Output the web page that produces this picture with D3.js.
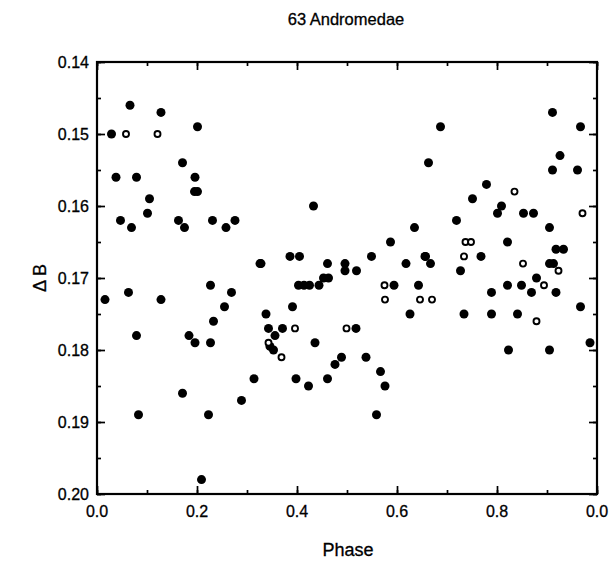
<!DOCTYPE html>
<html><head><meta charset="utf-8">
<script src="https://cdn.jsdelivr.net/npm/d3@7"></script>
<style>
body{margin:0;background:#fff;}
text{font-family:"Liberation Sans",Arial,Helvetica,sans-serif;fill:#000;stroke:#000;stroke-width:0.3px;}
</style></head><body>
<svg id="c" width="610" height="562"></svg>
<script>
const title = "63 Andromedae";
const xLabel = "Phase";
const yLabel = "\u0394 B";
const xTicks = [0, 0.2, 0.4, 0.6, 0.8, 1.0];
const xTickLabels = ["0.0", "0.2", "0.4", "0.6", "0.8", "0.0"];
const yTicks = [0.14, 0.15, 0.16, 0.17, 0.18, 0.19, 0.20];
const yTickLabels = ["0.14", "0.15", "0.16", "0.17", "0.18", "0.19", "0.20"];

// filled circles: [phase, deltaB]
const filledPts = [
 [0.066,0.146],[0.128,0.147],[0.201,0.149],[0.029,0.150],[0.171,0.154],
 [0.038,0.156],[0.079,0.156],[0.196,0.156],[0.105,0.159],[0.195,0.158],[0.201,0.158],
 [0.047,0.162],[0.069,0.163],[0.101,0.161],[0.163,0.162],[0.175,0.163],
 [0.231,0.162],[0.258,0.163],[0.276,0.162],[0.326,0.168],[0.016,0.173],
 [0.063,0.172],[0.128,0.173],[0.227,0.171],[0.269,0.172],[0.255,0.174],
 [0.233,0.176],[0.079,0.178],[0.184,0.178],[0.196,0.179],[0.227,0.179],
 [0.314,0.184],[0.171,0.186],[0.289,0.187],[0.083,0.189],[0.223,0.189],[0.209,0.198],
 [0.433,0.160],[0.635,0.163],[0.587,0.165],[0.386,0.167],[0.405,0.167],
 [0.328,0.168],[0.461,0.168],[0.496,0.168],[0.496,0.169],[0.519,0.169],
 [0.549,0.167],[0.618,0.168],[0.656,0.167],[0.453,0.170],[0.463,0.170],
 [0.403,0.171],[0.414,0.171],[0.425,0.171],[0.444,0.171],[0.594,0.171],[0.643,0.171],
 [0.391,0.174],[0.338,0.175],[0.626,0.175],[0.343,0.177],[0.371,0.177],[0.518,0.177],
 [0.356,0.178],[0.436,0.179],[0.346,0.1795],[0.353,0.180],
 [0.398,0.184],[0.423,0.185],[0.461,0.184],[0.476,0.182],[0.489,0.181],
 [0.538,0.181],[0.567,0.183],[0.576,0.185],[0.559,0.189],
 [0.751,0.159],[0.809,0.160],[0.801,0.161],[0.853,0.161],[0.873,0.161],
 [0.719,0.162],[0.905,0.163],[0.821,0.165],[0.657,0.167],[0.667,0.168],
 [0.768,0.167],[0.918,0.166],[0.933,0.166],[0.905,0.168],[0.913,0.168],
 [0.727,0.169],[0.879,0.170],[0.789,0.172],[0.821,0.171],[0.849,0.171],
 [0.869,0.172],[0.918,0.172],[0.967,0.174],[0.734,0.175],[0.789,0.175],
 [0.841,0.175],[0.986,0.179],[0.823,0.180],[0.905,0.180],
 [0.911,0.147],[0.687,0.149],[0.967,0.149],[0.926,0.153],[0.663,0.154],
 [0.911,0.155],[0.961,0.155],[0.779,0.157]
];
// open circles: [phase, deltaB]
const openPts = [
 [0.058,0.150],[0.121,0.150],[0.575,0.171],[0.576,0.173],[0.646,0.173],[0.670,0.173],
 [0.396,0.177],[0.499,0.177],[0.343,0.179],[0.369,0.181],
 [0.971,0.161],[0.737,0.165],[0.748,0.165],[0.734,0.167],[0.852,0.168],
 [0.923,0.169],[0.894,0.171],[0.879,0.176],[0.835,0.158]
];

const svg = d3.select("#c");
const L = 97, R = 597, T = 62, B = 494;
const x = d3.scaleLinear().domain([0, 1]).range([L, R]);
const y = d3.scaleLinear().domain([0.14, 0.20]).range([T, B]);

const g = svg.append("g");
const xMinor = d3.range(0, 1.0001, 0.1);
const yMinor = d3.range(0.14, 0.2001, 0.005);
function drawAxis(axis, transform) {
  const a = g.append("g").attr("transform", transform).call(axis);
  a.select(".domain").remove();
  a.selectAll("line").attr("stroke", "#000").attr("stroke-width", 1.7);
  return a;
}
drawAxis(d3.axisTop(x).tickValues(xMinor).tickSize(4).tickFormat(""), `translate(0,${B})`);
drawAxis(d3.axisTop(x).tickValues(xTicks).tickSize(8).tickFormat(""), `translate(0,${B})`);
drawAxis(d3.axisBottom(x).tickValues(xMinor).tickSize(4).tickFormat(""), `translate(0,${T})`);
drawAxis(d3.axisBottom(x).tickValues(xTicks).tickSize(8).tickFormat(""), `translate(0,${T})`);
drawAxis(d3.axisRight(y).tickValues(yMinor).tickSize(4).tickFormat(""), `translate(${L},0)`);
drawAxis(d3.axisRight(y).tickValues(yTicks).tickSize(8).tickFormat(""), `translate(${L},0)`);
drawAxis(d3.axisLeft(y).tickValues(yMinor).tickSize(4).tickFormat(""), `translate(${R},0)`);
drawAxis(d3.axisLeft(y).tickValues(yTicks).tickSize(8).tickFormat(""), `translate(${R},0)`);

g.append("rect").attr("x", L).attr("y", T).attr("width", R - L).attr("height", B - T)
  .attr("fill", "none").attr("stroke", "#000").attr("stroke-width", 2.2);

g.selectAll(".xl").data(xTicks).enter().append("text")
  .attr("x", d => x(d)).attr("y", B + 23).attr("text-anchor", "middle")
  .attr("font-size", 16).text((d, i) => xTickLabels[i]);
g.selectAll(".yl").data(yTicks).enter().append("text")
  .attr("x", L - 8).attr("y", d => y(d) + 5.5).attr("text-anchor", "end")
  .attr("font-size", 16).text((d, i) => yTickLabels[i]);

svg.append("text").attr("x", 346).attr("y", 25).attr("text-anchor", "middle")
  .attr("font-size", 16.5).text(title);
svg.append("text").attr("x", 348).attr("y", 556).attr("text-anchor", "middle")
  .attr("font-size", 18).text(xLabel);
svg.append("text").attr("transform", `translate(46,${(T + B) / 2}) rotate(-90)`)
  .attr("text-anchor", "middle").attr("font-size", 18).text(yLabel);

g.selectAll(".f").data(filledPts).enter().append("circle")
  .attr("cx", d => x(d[0])).attr("cy", d => y(d[1])).attr("r", 4.5).attr("fill", "#000");
g.selectAll(".o").data(openPts).enter().append("circle")
  .attr("cx", d => x(d[0])).attr("cy", d => y(d[1])).attr("r", 3)
  .attr("fill", "#fff").attr("stroke", "#000").attr("stroke-width", 1.9);
</script>
</body></html>
